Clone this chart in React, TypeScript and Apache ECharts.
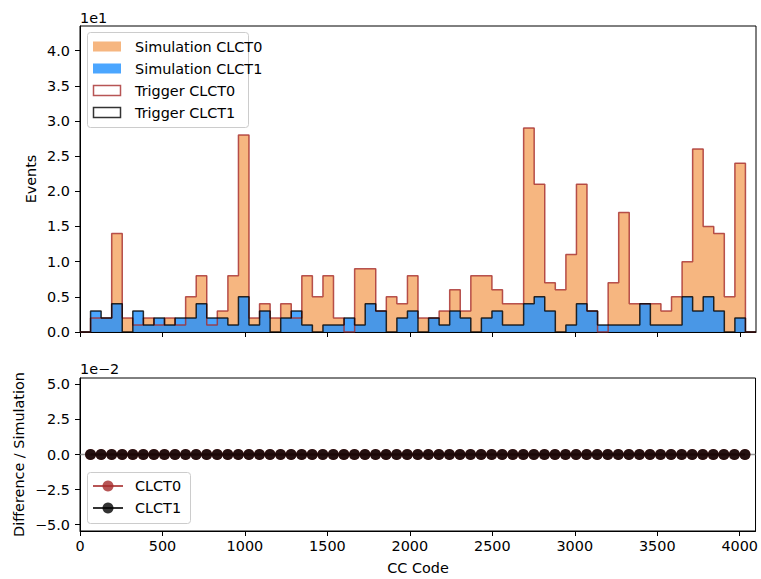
import React, { useEffect, useRef } from "react";
import * as echarts from "echarts";

// ---- data -----------------------------------------------------------
const BIN_WIDTH = 64;
const N_BINS = 64;
const binEdges = Array.from({ length: N_BINS + 1 }, (_, i) => i * BIN_WIDTH);

const simClct0 = [
  0, 2, 2, 14, 2, 1, 2, 1, 2, 1, 5, 8, 1, 3, 8, 28,
  2, 4, 2, 4, 2, 8, 5, 8, 2, 0, 9, 9, 3, 5, 4, 8,
  2, 2, 3, 6, 3, 8, 8, 6, 4, 4, 29, 21, 7, 6, 11, 21,
  3, 0, 7, 17, 4, 4, 4, 3, 5, 10, 26, 15, 14, 5, 24, 0,
];
const simClct1 = [
  0, 3, 2, 4, 0, 3, 1, 2, 1, 2, 2, 4, 2, 2, 1, 5,
  1, 3, 0, 2, 3, 1, 0, 1, 1, 2, 1, 4, 3, 0, 2, 3,
  0, 2, 1, 3, 2, 0, 2, 3, 1, 1, 4, 5, 3, 0, 1, 4,
  3, 1, 1, 1, 1, 4, 1, 1, 1, 5, 3, 5, 3, 0, 2, 0,
];
const trigClct0 = [
  0, 2, 2, 14, 2, 1, 2, 1, 2, 1, 5, 8, 1, 3, 8, 28,
  2, 4, 2, 4, 2, 8, 5, 8, 2, 0, 9, 9, 3, 5, 4, 8,
  2, 2, 3, 6, 3, 8, 8, 6, 4, 4, 29, 21, 7, 6, 11, 21,
  3, 0, 7, 17, 4, 4, 4, 3, 5, 10, 26, 15, 14, 5, 24, 0,
];
const trigClct1 = [
  0, 3, 2, 4, 0, 3, 1, 2, 1, 2, 2, 4, 2, 2, 1, 5,
  1, 3, 0, 2, 3, 1, 0, 1, 1, 2, 1, 4, 3, 0, 2, 3,
  0, 2, 1, 3, 2, 0, 2, 3, 1, 1, 4, 5, 3, 0, 1, 4,
  3, 1, 1, 1, 1, 4, 1, 1, 1, 5, 3, 5, 3, 0, 2, 0,
];

// ratio points sit on the interior bin edges (64 ... 4032)
const ratioX = binEdges.slice(1, -1);
const ratioClct0 = [
  0, 0, 0, 0, 0, 0, 0, 0, 0, 0, 0, 0, 0, 0, 0, 0,
  0, 0, 0, 0, 0, 0, 0, 0, 0, 0, 0, 0, 0, 0, 0, 0,
  0, 0, 0, 0, 0, 0, 0, 0, 0, 0, 0, 0, 0, 0, 0, 0,
  0, 0, 0, 0, 0, 0, 0, 0, 0, 0, 0, 0, 0, 0, 0,
];
const ratioClct1 = [
  0, 0, 0, 0, 0, 0, 0, 0, 0, 0, 0, 0, 0, 0, 0, 0,
  0, 0, 0, 0, 0, 0, 0, 0, 0, 0, 0, 0, 0, 0, 0, 0,
  0, 0, 0, 0, 0, 0, 0, 0, 0, 0, 0, 0, 0, 0, 0, 0,
  0, 0, 0, 0, 0, 0, 0, 0, 0, 0, 0, 0, 0, 0, 0,
];

const xTicks = [0, 500, 1000, 1500, 2000, 2500, 3000, 3500, 4000];
const yTicksTop = [0, 5, 10, 15, 20, 25, 30, 35, 40]; // events (shown x1e1)
const yTicksBottom = [-5, -2.5, 0, 2.5, 5]; // x1e-2

// ---- style ----------------------------------------------------------
const FONT = "DejaVu Sans";
const FS = 14.4;
const ORANGE = "rgba(244,164,96,0.8)";
const BLUE = "rgba(30,144,255,0.8)";
const RED = "rgba(165,42,42,0.8)";
const BLACK = "rgba(0,0,0,0.8)";

const X_MAX = 4096;

function toStep(vals: number[]) {
  const pts: number[][] = vals.map((v, i) => [binEdges[i], v]);
  pts.push([binEdges[vals.length], vals[vals.length - 1]]);
  return pts;
}

const fmtMinus = (s: string) => s.replace("-", "\u2212");

export default function App() {
  const ref = useRef<HTMLDivElement>(null);
  useEffect(() => {
    if (!ref.current) return;
    const chart = echarts.init(ref.current, undefined, { renderer: "svg" });

    const axisCommon = {
      type: "value",
      axisLine: { show: true, onZero: false, lineStyle: { color: "#000", width: 1 } },
      splitLine: { show: false },
    };
    const labelStyle = { fontFamily: FONT, fontSize: FS, color: "#000" };

    const legendTop = (i: number) => 46.5 + i * 22;
    const legendBot = (i: number) => 486 + i * 22;

    const option: any = {
      animation: false,
      backgroundColor: "#fff",
      grid: [
        { left: 80, top: 26, width: 676, height: 306, show: true, borderColor: "#000", borderWidth: 1, backgroundColor: "transparent" },
        { left: 80, top: 378, width: 676, height: 153, show: true, borderColor: "#000", borderWidth: 1, backgroundColor: "transparent" },
      ],
      xAxis: [
        {
          ...axisCommon,
          gridIndex: 0,
          min: 0,
          max: X_MAX,
          axisTick: { show: true, length: 5, customValues: xTicks, lineStyle: { color: "#000" } },
          axisLabel: { show: false },
        },
        {
          ...axisCommon,
          gridIndex: 1,
          min: 0,
          max: X_MAX,
          axisTick: { show: true, length: 5, customValues: xTicks, lineStyle: { color: "#000" } },
          axisLabel: { ...labelStyle, show: true, margin: 8, customValues: xTicks, formatter: (v: number) => String(v) },
        },
      ],
      yAxis: [
        {
          ...axisCommon,
          gridIndex: 0,
          min: 0,
          max: 43.5,
          axisTick: { show: true, length: 5, customValues: yTicksTop, lineStyle: { color: "#000" } },
          axisLabel: { ...labelStyle, margin: 10, customValues: yTicksTop, formatter: (v: number) => (v / 10).toFixed(1) },
        },
        {
          ...axisCommon,
          gridIndex: 1,
          min: -5.45,
          max: 5.45,
          axisTick: { show: true, length: 5, customValues: yTicksBottom, lineStyle: { color: "#000" } },
          axisLabel: { ...labelStyle, margin: 10, customValues: yTicksBottom, formatter: (v: number) => fmtMinus(v.toFixed(1)) },
        },
      ],
      series: [
        {
          name: "Simulation CLCT0", type: "line", xAxisIndex: 0, yAxisIndex: 0, step: "end",
          data: toStep(simClct0), symbol: "none", lineStyle: { width: 0, opacity: 0 },
          areaStyle: { color: ORANGE, opacity: 1 }, silent: true,
        },
        {
          name: "Simulation CLCT1", type: "line", xAxisIndex: 0, yAxisIndex: 0, step: "end",
          data: toStep(simClct1), symbol: "none", lineStyle: { width: 0, opacity: 0 },
          areaStyle: { color: BLUE, opacity: 1 }, silent: true,
        },
        {
          name: "Trigger CLCT0", type: "line", xAxisIndex: 0, yAxisIndex: 0, step: "end",
          data: toStep(trigClct0), symbol: "none", lineStyle: { color: RED, width: 1.5 }, silent: true,
        },
        {
          name: "Trigger CLCT1", type: "line", xAxisIndex: 0, yAxisIndex: 0, step: "end",
          data: toStep(trigClct1), symbol: "none", lineStyle: { color: BLACK, width: 1.5 }, silent: true,
        },
        {
          name: "zero", type: "line", xAxisIndex: 1, yAxisIndex: 1,
          data: [[0, 0], [X_MAX, 0]], symbol: "none",
          lineStyle: { color: "rgba(128,128,128,0.8)", width: 1.5 }, silent: true,
        },
        {
          name: "CLCT0", type: "line", xAxisIndex: 1, yAxisIndex: 1,
          data: ratioX.map((x, i) => [x, ratioClct0[i]]),
          symbol: "circle", symbolSize: 11, showAllSymbol: true,
          itemStyle: { color: RED, borderWidth: 0 }, lineStyle: { color: RED, width: 2 }, silent: true,
        },
        {
          name: "CLCT1", type: "line", xAxisIndex: 1, yAxisIndex: 1,
          data: ratioX.map((x, i) => [x, ratioClct1[i]]),
          symbol: "circle", symbolSize: 11, showAllSymbol: true,
          itemStyle: { color: BLACK, borderWidth: 0 }, lineStyle: { color: BLACK, width: 2 }, silent: true,
        },
      ],
      graphic: [
        // offset texts
        { type: "text", x: 80, y: 17.5, style: { text: "1e1", fontFamily: FONT, fontSize: FS, fill: "#000", align: "left", verticalAlign: "middle" } },
        { type: "text", x: 80, y: 369, style: { text: "1e\u22122", fontFamily: FONT, fontSize: FS, fill: "#000", align: "left", verticalAlign: "middle" } },
        // axis titles
        { type: "text", x: 31, y: 179, rotation: Math.PI / 2, style: { text: "Events", fontFamily: FONT, fontSize: FS, fill: "#000", align: "center", verticalAlign: "middle" } },
        { type: "text", x: 18.5, y: 454.5, rotation: Math.PI / 2, style: { text: "Difference / Simulation", fontFamily: FONT, fontSize: FS, fill: "#000", align: "center", verticalAlign: "middle" } },
        { type: "text", x: 418, y: 567.5, style: { text: "CC Code", fontFamily: FONT, fontSize: FS, fill: "#000", align: "center", verticalAlign: "middle" } },
        // top legend
        { type: "rect", shape: { x: 87.5, y: 32.5, width: 161, height: 95, r: 3 }, style: { fill: "rgba(255,255,255,0.8)", stroke: "#cccccc", lineWidth: 1 }, z: 50 },
        { type: "rect", shape: { x: 93, y: legendTop(0) - 5, width: 28, height: 10 }, style: { fill: ORANGE }, z: 51 },
        { type: "rect", shape: { x: 93, y: legendTop(1) - 5, width: 28, height: 10 }, style: { fill: BLUE }, z: 51 },
        { type: "rect", shape: { x: 93.5, y: legendTop(2) - 5, width: 27, height: 10 }, style: { fill: "none", stroke: RED, lineWidth: 1.5 }, z: 51 },
        { type: "rect", shape: { x: 93.5, y: legendTop(3) - 5, width: 27, height: 10 }, style: { fill: "none", stroke: BLACK, lineWidth: 1.5 }, z: 51 },
        ...["Simulation CLCT0", "Simulation CLCT1", "Trigger CLCT0", "Trigger CLCT1"].map((t, i) => ({
          type: "text", x: 135, y: legendTop(i), z: 51,
          style: { text: t, fontFamily: FONT, fontSize: FS, fill: "#000", align: "left", verticalAlign: "middle" },
        })),
        // bottom legend
        { type: "rect", shape: { x: 87.5, y: 472.5, width: 103, height: 51, r: 3 }, style: { fill: "rgba(255,255,255,0.8)", stroke: "#cccccc", lineWidth: 1 }, z: 50 },
        { type: "line", shape: { x1: 93, y1: legendBot(0), x2: 123, y2: legendBot(0) }, style: { stroke: RED, lineWidth: 2 }, z: 51 },
        { type: "circle", shape: { cx: 108, cy: legendBot(0), r: 5.5 }, style: { fill: RED }, z: 52 },
        { type: "line", shape: { x1: 93, y1: legendBot(1), x2: 123, y2: legendBot(1) }, style: { stroke: BLACK, lineWidth: 2 }, z: 51 },
        { type: "circle", shape: { cx: 108, cy: legendBot(1), r: 5.5 }, style: { fill: BLACK }, z: 52 },
        ...["CLCT0", "CLCT1"].map((t, i) => ({
          type: "text", x: 135, y: legendBot(i), z: 51,
          style: { text: t, fontFamily: FONT, fontSize: FS, fill: "#000", align: "left", verticalAlign: "middle" },
        })),
      ],
    };
    chart.setOption(option);
    return () => chart.dispose();
  }, []);
  return (
    <div
      ref={ref}
      style={{ position: "fixed", left: 0, top: 0, width: 761, height: 579, background: "#fff" }}
    />
  );
}
